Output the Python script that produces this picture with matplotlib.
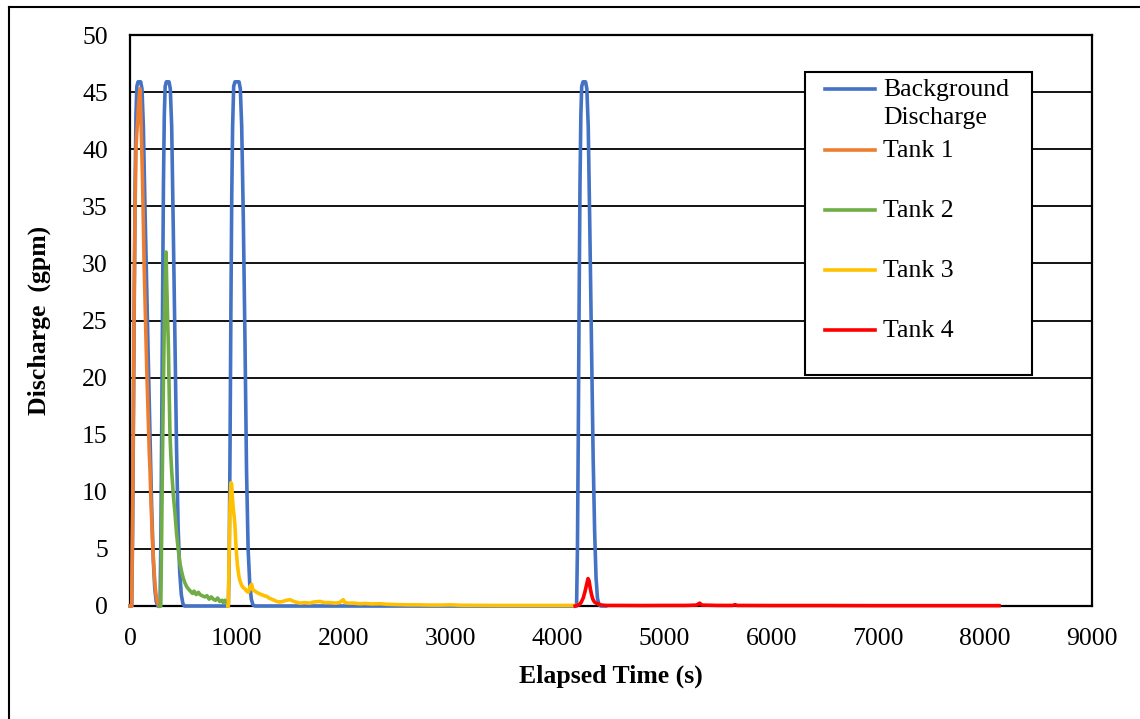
import matplotlib

matplotlib.use("Agg")
import matplotlib.pyplot as plt  # noqa: E402
from matplotlib.lines import Line2D  # noqa: E402
from matplotlib.patches import Rectangle  # noqa: E402

plt.rcParams["font.family"] = ["Liberation Serif", "DejaVu Serif"]

# ---------------------------------------------------------------- data
bg_t = [0, 16, 24, 32, 40, 48, 56, 64, 75, 100, 112, 125, 140, 155, 170, 187, 203, 218, 232, 245, 260,
        281, 289, 297, 305, 313, 321, 329, 340, 365, 377, 390, 405, 421, 435, 450, 465, 480, 495, 510,
        700, 920, 928, 936, 944, 952, 960, 970, 982, 1020, 1032, 1045, 1060, 1076, 1090, 1105, 1120,
        1135, 1150, 1170, 2500, 4178, 4186, 4194, 4202, 4210, 4218, 4226, 4238, 4262, 4274, 4287,
        4302, 4319, 4333, 4347, 4360, 4373, 4388, 4405, 4450]
bg_q = [0, 0, 6, 16, 27, 37, 43, 45.5, 45.9, 45.9, 45.3, 42, 35, 28.5, 22, 15, 8.5, 4, 1.5, 0.4, 0,
        0, 6, 16, 27, 37, 43, 45.5, 45.9, 45.9, 45.3, 42, 33, 23, 14, 7, 3, 1, 0.2, 0,
        0, 0, 4, 14, 26, 36, 42, 45.5, 45.9, 45.9, 45.3, 42, 34, 23, 12, 5, 2,
        0.6, 0.1, 0, 0, 0, 5, 15, 27, 37, 43, 45.5, 45.9, 45.9, 45.3, 42,
        33, 22, 13, 6.5, 2.5, 0.7, 0.1, 0, 0]

t1_t = [0, 16, 24, 32, 40, 48, 56, 64, 72, 80, 88, 94, 102, 110, 118, 125, 132, 140, 148, 156, 164,
        172, 180, 187, 195, 203, 210, 218, 226, 234, 242, 250, 258, 266, 274]
t1_q = [0, 0, 8, 18, 28, 35, 40, 41.5, 42.5, 44, 44.8, 45.3, 43, 40, 37, 33.5, 30, 27, 24, 21, 18.5,
        16, 13.5, 12, 9.5, 7.5, 5.8, 4.3, 3, 1.9, 1.1, 0.6, 0.3, 0.1, 0]

t2_t = [280, 288, 296, 304, 312, 320, 328, 337, 343, 351, 359, 366, 374, 382, 390, 405, 421, 436, 452,
        468, 483, 499, 515, 530, 546, 565, 585, 600, 620, 640, 655, 675, 700, 720, 740, 760, 779, 800,
        820, 840, 860, 873, 890, 904, 912]
t2_q = [0, 0, 6, 13, 19, 24, 28, 31, 28.5, 25.5, 22.8, 19, 15, 13.2, 11.8, 9.8, 8.1, 6.3, 4.9,
        3.7, 3, 2.4, 2, 1.7, 1.5, 1.3, 1.1, 1.3, 1.0, 1.2, 1.0, 0.9, 0.8, 0.9, 0.6, 0.8, 0.6, 0.5,
        0.7, 0.4, 0.5, 0.3, 0.5, 0.3, 0.2]

t3_t = [915, 920, 928, 936, 945, 951, 958, 966, 975, 982, 990, 997, 1005, 1013, 1021, 1029, 1037,
        1045, 1060, 1076, 1091, 1107, 1123, 1138, 1150, 1170, 1185, 1205, 1230, 1255, 1278, 1300,
        1325, 1350, 1372, 1400, 1430, 1465, 1497, 1520, 1550, 1590, 1630, 1680, 1720, 1777, 1820,
        1870, 1920, 1960, 1995, 2010, 2050, 2089, 2150, 2200, 2260, 2339, 2400, 2500, 2600, 2700,
        2800, 2900, 3000, 3100, 3200, 3400, 3600, 3800, 4000, 4165]
t3_q = [0, 0, 5, 9, 10.8, 10.6, 9.5, 8.5, 7.8, 7.0, 5.5, 4.5, 3.6, 3.0, 2.5, 2.2, 2.0,
        1.8, 1.6, 1.5, 1.3, 1.2, 1.7, 1.9, 1.4, 1.3, 1.2, 1.1, 1.0, 0.9, 0.85, 0.7,
        0.6, 0.5, 0.4, 0.35, 0.4, 0.5, 0.55, 0.45, 0.35, 0.25, 0.3, 0.25, 0.35, 0.4, 0.3,
        0.3, 0.25, 0.3, 0.55, 0.3, 0.25, 0.25, 0.2, 0.22, 0.18, 0.2, 0.15, 0.12, 0.1, 0.1,
        0.08, 0.08, 0.1, 0.06, 0.06, 0.05, 0.05, 0.05, 0.05, 0.05]

t4_t = [4165, 4180, 4200, 4220, 4240, 4255, 4270, 4285, 4295, 4305, 4318, 4330, 4345, 4360, 4381,
        4400, 4450, 4600, 4800, 5000, 5200, 5300, 5330, 5350, 5500, 5640, 5660, 5680, 6000, 6500,
        7000, 7500, 8000, 8130]
t4_q = [0, 0.05, 0.1, 0.3, 0.7, 1.2, 1.8, 2.4, 2.2, 1.6, 1.0, 0.6, 0.35, 0.25, 0.2,
        0.1, 0.05, 0.05, 0.04, 0.05, 0.05, 0.08, 0.25, 0.08, 0.05, 0.05, 0.12, 0.05, 0.04, 0.04,
        0.03, 0.03, 0.03, 0.03]

series = [
    ("Background\nDischarge", bg_t, bg_q, "#4472C4"),
    ("Tank 1", t1_t, t1_q, "#ED7D31"),
    ("Tank 2", t2_t, t2_q, "#70AD47"),
    ("Tank 3", t3_t, t3_q, "#FFC000"),
    ("Tank 4", t4_t, t4_q, "#FF0000"),
]

# ---------------------------------------------------------------- figure
W, H = 1140, 719
fig = plt.figure(figsize=(W / 100, H / 100), dpi=100)


def fx(px):
    return px / W


def fy(py):
    return 1 - py / H


ax = fig.add_axes([fx(130), fy(606), fx(1092) - fx(130), fy(35) - fy(606)])

for label, t, q, c in series:
    ax.plot(t, q, color=c, lw=2.6, solid_joinstyle="round", clip_on=False, zorder=3)

ax.set_xlim(0, 9000)
ax.set_ylim(0, 50)
ax.set_xticks(range(0, 9001, 1000))
ax.set_yticks(range(0, 51, 5))
ax.tick_params(length=0, labelsize=18.5, pad=16)
ax.tick_params(axis="x", pad=16)
ax.yaxis.grid(True, color="black", lw=1.3)
ax.set_axisbelow(True)
for s in ax.spines.values():
    s.set_color("black")
    s.set_linewidth(1.6)

ax.set_xlabel("Elapsed Time (s)", fontsize=18.5, fontweight="bold", labelpad=10)
ax.set_ylabel("Discharge  (gpm)", fontsize=18.5, fontweight="bold", labelpad=22)

# outer chart frame
fig.add_artist(Line2D([fx(9), fx(9)], [fy(7), 0], color="black", lw=1.5))
fig.add_artist(Line2D([fx(9), 1], [fy(7), fy(7)], color="black", lw=1.5))

# legend box, Excel style
fig.add_artist(Rectangle((fx(805), fy(375)), fx(1032) - fx(805), fy(72) - fy(375),
                         transform=fig.transFigure, facecolor="white", edgecolor="black",
                         lw=1.5, zorder=5))
rows = [89, 150, 210, 270, 330]
for (label, _, _, c), py in zip(series, rows):
    fig.add_artist(Line2D([fx(825), fx(875)], [fy(py), fy(py)], color=c, lw=2.6, zorder=6))
    fig.text(fx(883), fy(py - 10), label, fontsize=18.5, va="top", ha="left",
             linespacing=1.35, zorder=6)

fig.savefig("out.png", dpi=100)
